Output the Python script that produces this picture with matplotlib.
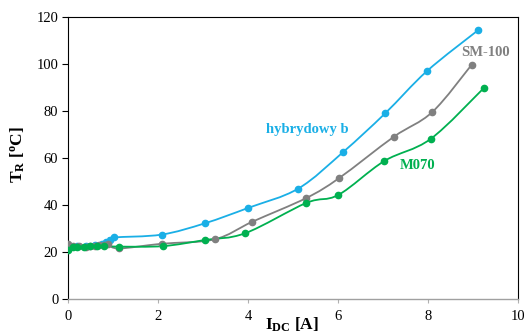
import numpy as np
import matplotlib
matplotlib.use('Agg')
import matplotlib.pyplot as plt
from matplotlib.path import Path
import matplotlib.patches as mpatches

# hybrydowy b
hyb_x = [0.0, 0.2, 0.4, 0.6, 0.75, 0.85, 0.93, 1.02, 2.08, 3.04, 4.01, 5.12, 6.12, 7.05, 7.98, 9.11]
hyb_y = [22.5, 22.5, 22.5, 22.8, 23.2, 24.3, 25.3, 26.2, 27.4, 32.2, 38.8, 47.0, 62.6, 79.0, 97.0, 114.3]

# SM-100
sm_x = [0.0, 0.1, 0.25, 0.4, 0.5, 0.6, 0.7, 0.8, 0.9, 1.13, 2.08, 3.26, 4.1, 5.3, 6.03, 7.24, 8.1, 8.97]
sm_y = [23.4, 22.6, 22.4, 22.3, 22.5, 22.7, 22.9, 23.0, 23.2, 21.5, 23.5, 25.4, 32.9, 43.0, 51.5, 69.0, 79.6, 99.6]

# M070
m_x = [0.0, 0.1, 0.2, 0.35, 0.5, 0.65, 0.8, 1.13, 2.11, 3.04, 3.94, 5.3, 6.01, 7.03, 8.06, 9.24]
m_y = [21.0, 22.3, 22.3, 22.3, 22.4, 22.5, 22.6, 22.3, 22.5, 25.1, 28.0, 40.9, 44.3, 58.7, 68.1, 89.7]

BLUE = '#1AAFE6'
GRAY = '#808080'
GREEN = '#00B050'
SERIF = ['Liberation Serif', 'DejaVu Serif']

plt.rcParams['mathtext.fontset'] = 'custom'
plt.rcParams['mathtext.rm'] = 'Liberation Serif'
plt.rcParams['mathtext.bf'] = 'Liberation Serif:bold'
plt.rcParams['mathtext.it'] = 'Liberation Serif:italic'


def smooth_path(xs, ys, tension=1 / 6):
    # cubic bezier through the points, like excel's smoothed line
    pts = np.column_stack([xs, ys])
    verts = [pts[0]]
    codes = [Path.MOVETO]
    n = len(pts)
    for i in range(n - 1):
        p0 = pts[i - 1] if i > 0 else pts[i]
        p1 = pts[i]
        p2 = pts[i + 1]
        p3 = pts[i + 2] if i + 2 < n else pts[i + 1]
        c1 = p1 + (p2 - p0) * tension
        c2 = p2 - (p3 - p1) * tension
        verts += [c1, c2, p2]
        codes += [Path.CURVE4] * 3
    return Path(verts, codes)


def draw_series(ax, xs, ys, color):
    ax.add_patch(mpatches.PathPatch(
        smooth_path(xs, ys), facecolor='none', edgecolor=color, lw=1.3, zorder=2,
    ))
    ax.plot(xs, ys, linestyle='none', marker='o', markersize=4.5,
            color=color, zorder=3)


fig = plt.figure(figsize=(5.28, 3.34), dpi=100, facecolor='white')
ax = fig.add_axes([0.1288, 0.1048, 0.852, 0.8443])

draw_series(ax, hyb_x, hyb_y, BLUE)
draw_series(ax, sm_x, sm_y, GRAY)
draw_series(ax, m_x, m_y, GREEN)

ax.set_xlim(0, 10)
ax.set_ylim(0, 120)
ax.set_xticks(range(0, 11, 2))
ax.set_yticks(range(0, 121, 20))

for lab in ax.get_xticklabels() + ax.get_yticklabels():
    lab.set_family(SERIF)
    lab.set_fontsize(10.5)

ax.tick_params(axis='y', direction='out', length=4, width=0.8, color='black', pad=3)
ax.tick_params(axis='x', direction='out', length=3, width=0.8, color='#b0b0b0', pad=5)

for side in ('top', 'right', 'left'):
    ax.spines[side].set_color('black')
    ax.spines[side].set_linewidth(0.8)
ax.spines['bottom'].set_color('#a0a0a0')
ax.spines['bottom'].set_linewidth(1.0)

ax.text(5.32, 72.3, 'hybrydowy b', color=BLUE, family=SERIF, fontweight='bold',
        fontsize=10.5, ha='center', va='center')
ax.text(9.28, 105, 'SM-100', color=GRAY, family=SERIF, fontweight='bold',
        fontsize=10.5, ha='center', va='center')
ax.text(7.77, 57, 'M070', color=GREEN, family=SERIF, fontweight='bold',
        fontsize=10.5, ha='center', va='center')

fig.text(0.034, 0.536, r'$\mathbf{T_R}$ [$\mathbf{^o}$C]', rotation=90, family=SERIF,
         fontweight='bold', fontsize=12.5, ha='center', va='center')
fig.text(0.553, 0.027, r'$\mathbf{I_{DC}}$ [A]', family=SERIF, fontweight='bold',
         fontsize=12.5, ha='center', va='center')

fig.savefig('out.png', dpi=100)
